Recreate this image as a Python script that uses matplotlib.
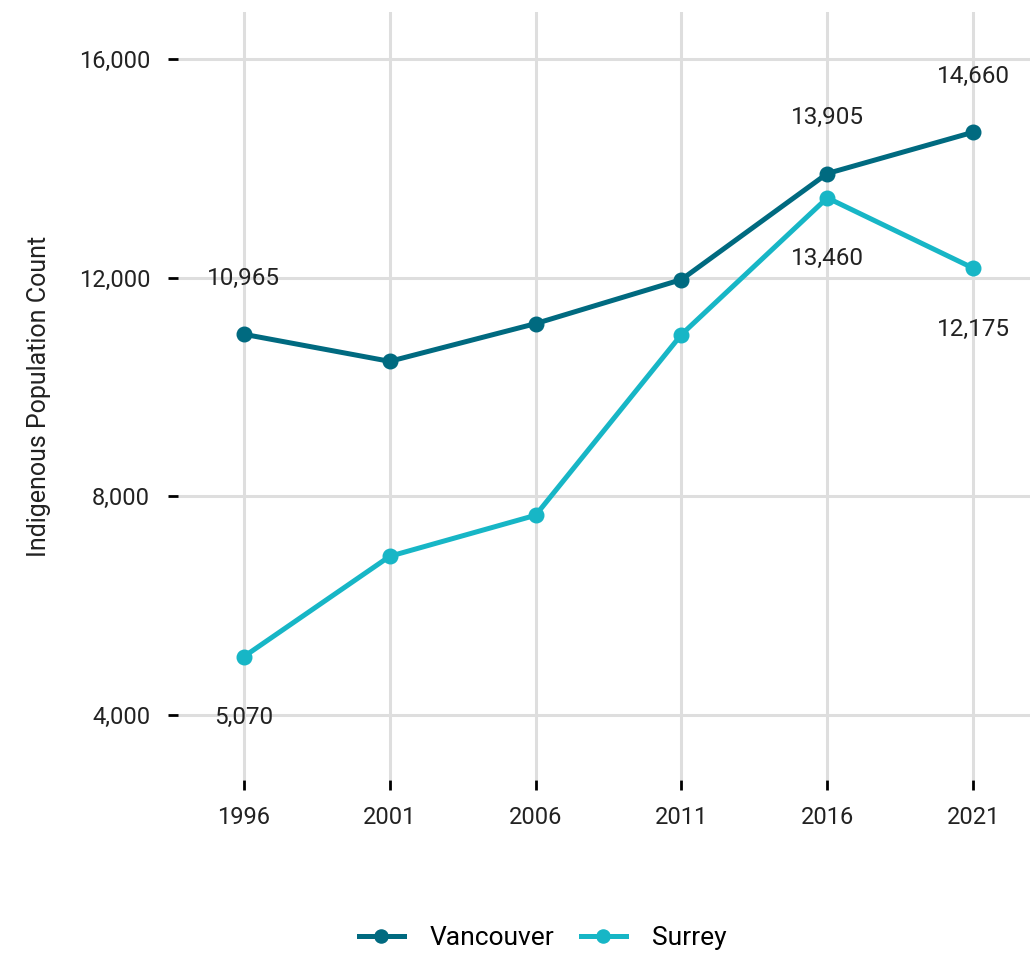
import matplotlib.pyplot as plt

plt.rcParams['font.family'] = ['Roboto', 'DejaVu Sans']

# data
years = [1996, 2001, 2006, 2011, 2016, 2021]
vancouver = [10965, 10470, 11160, 11965, 13905, 14660]
surrey = [5070, 6905, 7655, 10960, 13460, 12175]
y_ticks = [4000, 8000, 12000, 16000]
# which points get a value label, and whether it sits above (+1) or below (-1)
van_labels = {1996: 1, 2016: 1, 2021: 1}
sur_labels = {1996: -1, 2016: -1, 2021: -1}

VAN_COLOR = '#006a80'
SUR_COLOR = '#17b6c6'

fig = plt.figure(figsize=(10.3, 9.55), dpi=100)
ax = fig.add_axes([0.1728, 0.1832, 0.8272, 0.8042])

ax.plot(years, vancouver, color=VAN_COLOR, lw=3.6, marker='o', ms=10.5,
        label='Vancouver', zorder=3)
ax.plot(years, surrey, color=SUR_COLOR, lw=3.6, marker='o', ms=10.5,
        label='Surrey', zorder=3)

for yr, v in zip(years, vancouver):
    if yr in van_labels:
        ax.annotate(f'{v:,}', xy=(yr, v), xytext=(0, 40 * van_labels[yr]),
                    textcoords='offset points', ha='center', va='center',
                    fontsize=17.5, color='#222222')
for yr, v in zip(years, surrey):
    if yr in sur_labels:
        ax.annotate(f'{v:,}', xy=(yr, v), xytext=(0, 44 * sur_labels[yr]),
                    textcoords='offset points', ha='center', va='center',
                    fontsize=17.5, color='#222222')

ax.set_xlim(1993.74, 2022.95)
ax.set_ylim(2813, 16858)
ax.set_xticks(years)
ax.set_yticks(y_ticks)
ax.set_yticklabels([f'{t:,}' for t in y_ticks])
ax.tick_params(axis='both', length=7, width=2, color='black',
               labelsize=17, labelcolor='#222222')
ax.tick_params(axis='y', pad=13)
ax.tick_params(axis='x', pad=12)

ax.grid(True, color='#dedede', lw=2.2)
ax.set_axisbelow(True)
for s in ax.spines.values():
    s.set_visible(False)

ax.set_ylabel('Indigenous Population Count', fontsize=18, color='#222222',
              labelpad=20)

fig.legend(loc='center', bbox_to_anchor=(0.527, 0.018), ncol=2, frameon=False,
           fontsize=19, handlelength=1.7, columnspacing=1.0, handletextpad=1.0,
           markerscale=0.9)

fig.savefig('out.png', dpi=100, facecolor='white')
